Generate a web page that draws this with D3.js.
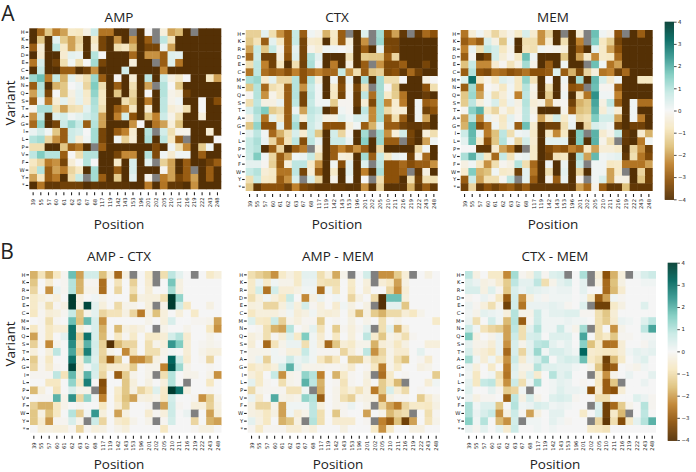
<!DOCTYPE html>
<html><head><meta charset="utf-8">
<script src="https://cdnjs.cloudflare.com/ajax/libs/d3/7.8.5/d3.min.js"></script>
<style>html,body{margin:0;padding:0;background:#fff}svg{display:block}</style>
</head><body><svg id="c" width="696" height="472"></svg>
<script>
const N=null;
const positions=["39","55","57","60","61","62","63","67","68","117","119","142","143","153","196","201","202","205","210","211","216","219","222","243","248"];
const variants=["H","K","R","D","E","C","M","N","Q","S","T","A","G","I","L","P","V","F","W","Y","*"];
const colorTicks=[-4,-3,-2,-1,0,1,2,3,4];
const AMP=[
[-4,-2.8,-1.5,-2.5,-2,-.7,-.8,-.3,.7,-2.6,-2.6,-4,-4,N,-4,0,N,-.4,-2,-1.7,-4,N,-4,-4,-4],
[-4,-1.5,-4,.3,-1.4,-2,-1.2,-4,-.8,-3.5,-4,-2.2,-4,-2.2,-4,-3,N,.9,-.9,-4,-4,-4,-4,-4,-4],
[-3,-.5,-4,.9,-.7,-2,-1,-4,-.5,-3.5,-4,-1,-.8,-1.7,-4,-3.5,-3.5,.2,-2,-4,-4,-4,-4,-4,-4],
[-4,-.6,-4,-4,-.6,.3,.2,-4,1,0,-4,-4,-4,-2.8,-4,-2.2,-2.2,-3,.4,.3,-4,-4,-4,-4,-4],
[-2.6,.5,-4,-3.6,-1,.1,-1,0,1.2,-3.5,-4,-4,-4,-.4,-4,-4,N,-3,.4,-2.6,-4,-4,-4,-4,-4],
[-4,.8,-4,-4,-3,-3,-4,-3.6,-2.2,-4,-4,-4,.6,-4,-4,-4,-4,-2.3,-4,-4,-4,-4,-4,-4,-4],
[1.3,1.8,-2.5,.8,-1.8,.3,-.5,-1,1.3,-3,-4,-.1,-4,-.5,-4,.9,-4,.7,-.3,-.7,0,-4,-4,-.8,-2],
[-3,1,-4,-1.8,-1.5,0,.2,-1.2,1.6,-1,-4,-3,-4,-1,-4,-2,N,1,0,-1.5,-4,-4,-4,-4,-4],
[-2,.9,-3.5,0,-1.5,-.3,.3,-.7,1.4,-.8,-4,-1.5,-4,-1.2,-4,0,-4,1,-.2,-.4,-3.6,-4,-4,-4,-4],
[-3,.2,-2.5,-.5,.3,-.5,.3,-.6,1.1,-.8,-4,-4,-1,-1.5,-4,-2.5,-4,.9,-.2,.1,-4,-4,0,-4,-3.3],
[-.2,1.1,1.1,-1,-2,-1,-.9,.3,1,-1,-4,-3,-2.4,-.8,-4,-.5,-4,.9,-.5,-.3,-1,-4,0,-4,-4],
[-2.2,.8,-4,.4,.6,.1,.3,.6,.9,-2,-4,-2.4,.6,-3.2,-4,-1.6,-2.4,.7,-.2,-1,-4,-4,-.4,-4,-4],
[-2.8,1.4,-4,-3.5,.7,1.3,.8,-3,1,-2,-4,-4,-4,-2.2,0,-4,-2.6,-2,-.4,-1.6,-4,-4,-4,-4,-4],
[.2,.6,.1,-1.5,-3,.7,.5,0,1.2,-3.5,-4,-3,-2.4,-.6,-4,1,N,.6,-1,-.2,-.2,-4,-4,-.5,-4],
[1,1.2,-1.2,-2.2,-3,.7,-.5,.1,1.2,-3.5,-4,.1,-1.3,-.5,-4,1.1,-4,.9,-.8,-3,N,-4,-4,-4,0],
[-1,-1,-4,-4,-1.5,-3,-2.6,-4,N,-3,-4,-4,-4,-4,-4,-4,-3.4,-4,.1,-1,-2.3,-4,-1.4,.1,-4],
[.9,1.6,1,1,-3,0,-1,1,1,-4,-4,-3.5,-2.3,-2.3,-4,1,-3.4,.1,-.6,.1,.1,-4,-3,-4,-4],
[-.8,-1.2,-2.5,-2.2,-3.5,-.5,0,1,0,-4,-4,-.7,-4,.5,-4,.3,N,-1.3,-2,-4,-3,-4,-4,-3.6,-3],
[-1,1,-3,-2,-2.5,-1.2,-.8,-4,1.2,-4,-4,-3,-4,.5,-4,-4,-4,-.1,-2,-4,-3,N,-4,-3,-4],
[-2,-.8,-3,-2.5,-4,-1,.8,N,1.2,-3,-4,-1.4,-4,.3,-4,-.2,N,-2.5,-2,-3.5,-3,-2,-4,-3,-4],
[-4,-2.6,-3.8,-3.8,-3.6,-3.6,-3.6,-4,-3.8,-3.9,-3.9,-3.9,-3.9,-4,-4,-2.5,-4,-2.6,-3.8,-3.8,-4,-2.2,-4,-4,-4]];
const CTX=[
[-1.3,-1.3,.3,-1,-2.2,-3,.8,-3,.1,-.2,-1.8,-.7,-3,N,-4,.4,N,1.2,-3.2,-2,-3.8,N,-3.8,-2.8,-3.2],
[-1.5,-.9,-3,.3,-.8,-3,.8,-3.5,-.6,-.7,-4,-.8,-3,-.4,-4,-2.2,N,1.3,-3.5,-3.5,-4,-4,-4,-4,-4],
[-2,.8,-1.5,.8,-.2,-3,.3,-3.5,-.2,-.5,.1,.1,0,-.2,-4,-3,-4,.3,-3.4,-3.5,-4,-4,-4,-4,-4],
[-2.8,.7,-3.6,-3.6,-.4,-3.2,.4,-3.5,1,.3,-4,-4,-4,-.9,-4,-1.4,-1.5,-1.5,-3,-1.2,-4,-4,-4,-4,-4],
[-1,.9,-2.4,-3.6,-.8,-4,-1,-3.6,1.1,.1,-4,-2.5,-4,-.3,-4,-3,N,-2.2,-3.4,-3.4,-3,-4,-4,-3.5,-4],
[-2.6,.9,-2.7,-3,-2.8,-3.2,-2.4,-3.2,-2.8,-2.4,-2.8,-2.8,.8,-2.2,-1,-3,-1.5,-1.3,-3.4,-3.2,-3.8,-2.8,-3.6,-4,-4],
[1.1,1.3,-.6,.3,-1.2,-1.2,1,-3.2,1,-.4,-4,.1,-3.5,.2,-4,1.1,-4,1.2,-1,-1,0,-4,-4,-.3,0],
[-1.5,1,-2.8,-1,-.8,-3,1,-2.2,.8,.1,-4,-.7,-3.3,-.2,-3.5,-1,N,1.2,-.1,-1.5,-4,-4,-4,-3.2,-1],
[-.1,1,-2.2,-.2,-.8,-3,1,-3.5,.9,.1,-4,-.8,-3.5,-.1,-3.7,.9,-2.7,1.2,-.7,-1.4,-2.6,-4,-4,-3.7,-4],
[-1,.9,-.3,-.3,.2,-3,.9,-3.5,.8,.1,.1,-1.4,-.1,-.1,-3.7,-.5,-3.4,1.2,-2.3,-.6,-2.5,-4,.1,-3,-2.8],
[.5,1.1,1.6,-1.4,-1.1,-3,.2,-2,.9,.7,-4,-3.4,.1,-.1,-4,.9,-2.3,1.2,-1.1,-.5,-.5,-4,.1,-3.6,-3.2],
[-.3,.9,-2.6,.3,-.8,-3,.9,-.5,.8,.4,-.3,-.3,.4,.1,.5,.5,-2.3,1.2,-2.8,-1,-3,-4,.1,-2,-4],
[-1.5,1.4,-3.2,-3.2,.3,-3,1.2,-3.5,.7,.3,-3.2,-3.2,-3.2,-.4,.1,-3,-1.8,.4,-3,-3,-3.6,-3.8,-3.8,-3.6,-4],
[.3,.9,.1,-2.8,-1.8,-1,.5,-.6,.8,-1.5,-4,.6,-1.2,-.1,-4,1.2,N,1.3,-2.2,-.4,.6,-3.5,-4,-.4,-1],
[.8,1.1,.2,-1.2,-2.6,-.9,.9,-3.3,.9,.2,-4,.7,.7,.2,-4,1.5,-4,1.3,-3,-3,N,-3.6,-4,-2,.1],
[.8,1,-4,-3,-1.2,-4,-3,-2.5,N,-.4,-4,-3,-2.4,-3,-2.2,-3,-4,-1.1,-4,-4,-4,-4,-1.2,.1,-4],
[.7,1.6,.1,-1.2,-3,-2,.1,.2,.8,-1,-4,-3,-.4,-.5,-4,1.2,-3,.8,-.8,.2,.1,-3.6,-.3,-2.8,-4],
[.3,.3,-.1,-1.3,-3,-.4,.9,.9,-.7,-2.2,-4,.1,-3.3,.3,-4,.4,N,.9,-3.2,-3.2,-2.8,-3.3,-3,-3,-2.2],
[.8,1,-.5,-.7,-2.6,-2.6,.9,-3.5,-.5,-3,-4,-.7,-4,.3,-4,-2.4,-4,1.1,-3.2,-3.2,-2.9,N,-3.8,-.3,-4],
[-1,.8,-.7,-.8,-3,-2.2,.5,N,.5,-1.2,-4,-.2,-4,.1,-4,0,N,-1,-3.2,-3.2,-4,-1,-3.6,-1,-1],
[-1.5,-3.8,-3.2,-3.2,-3.2,-3.6,-2.4,-3.4,-3.6,-3.8,-3.8,-3.8,-3.8,-3.9,-3.9,-2.2,-3.9,-1.3,-3.9,-3.9,-3.9,-1.8,-3.8,-3,-3.8]];
const MEM=[
[-2.6,-.5,.1,-.5,-1.2,-.6,-.2,-.7,.5,-.6,-2.2,-1.2,-4,N,-4,-.5,N,1.8,.1,-.2,-3.2,N,-4,-3,-4],
[-3,-2.5,-3,.5,-.3,-1.5,.1,-4,-1,-1,-2.2,-.6,-4,-1,-4,-2.4,N,1.6,-.8,-1.4,-3.5,-4,-4,-4,-4],
[-2.4,.2,-1,.9,.6,-.8,-.2,-4,-.9,-1,.1,-.1,-.2,-.4,-4,-3,-4,.3,-.7,-2,-3.2,-4,-4,-4,-4],
[-3,-.1,-4,-3.5,.6,-.5,-.1,-.8,1.8,.1,-4,-4,-4,-1.5,-4,-2,-.7,-2.3,-.7,-.8,-2.8,-4,-4,-4,-4],
[-1.6,.8,-2.3,-2.3,-.6,-.1,-.9,-.3,1.2,-.2,-4,-3,-4,.1,-4,-4,N,1.8,.1,-2.6,-2,-4,-4,-4,-4],
[-3,1,-3.2,-3.4,-2.6,-2.8,-3.2,-3,-2.6,-3.2,-3.2,-3,.4,-3,-1.8,-3.4,-1.2,-.4,-2.6,-2.4,-3.6,-2.8,-4,-4,-4],
[.4,3,-.7,-.2,-.8,.4,.2,-.8,1.4,-.9,-4,0,-4,.1,-4,1.2,-4,1.9,.5,-.6,.1,-4,-4,-.8,-.8],
[-3,1.2,-2.4,0,-.2,-.8,.1,-.8,1,-.2,-4,-1,-4,-.1,-3.2,-3,N,1.8,-.1,-.1,-3,-4,-4,-4,-4],
[-1.5,1.3,-2,.1,-1,-.5,.1,-2.4,.9,-.3,-4,-1.4,-4,.1,-4,-.9,-2.6,2.5,.1,.1,-2.4,-4,-4,-4,-4],
[-1.4,.9,-.4,.1,.5,-.7,.2,-.3,1,-.5,-.3,-2,-.2,-.1,-3.6,-1.8,-1.5,2.2,-.3,.9,-3,-4,.1,-2.7,-2.7],
[-.1,1.5,2,-.7,-1.2,-.2,-.7,-.2,.9,-.3,-4,-4,-4,-.2,-3,-1.6,-1.4,2,-.5,.3,-.5,-4,.1,-4,-4],
[-2,.9,-2.3,.2,-.2,-.8,.3,-.1,.9,-.1,-2,-.7,.6,-.7,.1,-1.2,-1,1.6,.6,.6,-2,-4,.1,-2.5,-4],
[-1.8,2,-3.3,-2.6,.1,-.7,.2,-3,1.8,-.6,-4,-3.6,-3.6,-1,.2,-4,-1.2,.5,.3,.1,-3.6,-4,-3.6,-3.6,-4],
[.7,1.9,.2,-2.5,-1.6,.9,-1,.1,.2,-.7,-4,-.7,-2.3,-.8,-4,1.6,N,2,-.6,-.2,.8,-3.7,-4,-.6,-1.8],
[.3,1.8,-.7,-3.2,-1.5,1,.1,-1.2,.6,-.6,-4,.3,.3,.3,-4,1.6,-4,2,-.2,-1,N,-3.8,-4,-2.5,.1],
[0,0,-3.8,-3.8,-.6,-2,-2.6,-4,N,-.7,-4,-3.4,-3,-3.2,-2.4,-2.8,-.8,-2,-.5,-.5,-.7,-4,-1.2,-2.2,-3.6],
[1.1,2,.8,-.8,-2.8,.8,-.9,.1,.2,-.7,-4,-3.6,-.9,-.8,-4,1.1,-2,1.9,.1,.2,.3,-3.8,-1,-2.6,-3.4],
[-.3,.1,-.8,-2.2,-1,-.1,-.3,1,-1,-2.8,-4,.1,-4,.2,-4,.8,N,.1,.1,-.8,-.7,-2.6,-2.6,-2.6,-2],
[-.6,1.6,-1.8,-1.6,.1,-.7,-.6,-3.6,.3,-2.6,-4,-1,-4,.3,-4,-1.2,-4,.1,.1,-2,-.7,N,-4,-1.2,-3.6],
[-3,.7,-2,-1,-1,-.1,.9,N,.3,-3,-4,-.2,-3,.2,-4,-.1,N,.1,.5,-2,-.3,-.3,-4,-1.5,-3.6],
[-3.6,-1.2,-3.8,-3.2,-3.6,-3.2,-3,-3.6,-3,-3.8,-3.8,-3.8,-3.8,-3.8,-3.9,-2,-2.8,-.2,-3,-3.8,-3.8,-1.6,-3.8,-3.8,-3.8]];
const AMP_CTX=[
[-1.8,-.9,-1.8,-.8,-.1,1.8,-2,.6,.6,-1.6,-.4,-2.8,-.3,N,0,-.7,N,-1,.9,.3,0,N,0,-.7,-.4],
[-1.5,0,-.6,0,-.1,1,-1.8,-.1,-.1,-2.7,0,-.9,0,-1.3,0,-.6,N,0,1.7,-.3,0,0,0,0,0],
[-1.2,0,-2.2,.2,-.1,1,-1.8,-.2,-.2,-2.7,0,-1.2,0,-1,0,-.5,0,0,1.2,-.3,0,0,0,0,0],
[-.7,-.4,-.2,-.4,0,4,-.3,0,.1,-.2,0,0,0,-1.6,-.3,-.4,-.4,-1,4,1.4,0,0,0,0,0],
[-.7,-.2,-1,-.1,-.3,4,-.3,3.8,.3,-.4,0,-1.1,-.2,-.2,0,-.4,N,-.2,4,.7,-.8,0,0,-.3,0],
[-.8,-.1,-.5,-.4,-.1,.8,-1.5,-.2,.3,-1.2,-.9,-.9,-.3,-1.2,-2.5,-.3,-1.6,-.4,0,-.4,0,-.7,0,0,0],
[0,-.1,-1,-.1,0,1.8,-1.6,1.9,.5,-2.2,0,0,0,0,0,-.2,0,-.4,.5,0,0,-.1,-.1,-.2,-2],
[-.8,-.1,-.8,-.5,-.5,3,-.5,.1,.5,-1.8,0,-1.7,-.3,-.5,-.3,0,N,-.2,0,0,-.2,0,0,-.8,-2.2],
[-2,-.1,-.8,0,.3,3,-1.3,3,.5,-1.7,0,-.8,-.1,-.7,0,-.7,-.7,-.5,.6,1,-.6,0,0,-.2,0],
[-1.3,-.1,-2.3,-.2,0,2.6,-1,2,.6,-1.3,-4,-1.7,-1.2,-1.2,0,-1,-.2,-.4,2.4,1.6,-.5,0,-.1,-.2,-.1],
[-.4,0,-.4,.9,0,2.2,-1.3,2.8,.5,-1.2,-.2,0,-2.3,-.9,0,-1,-1,-.2,.1,0,-.5,0,-.2,-.4,-.4],
[-1.4,-.1,-.8,0,0,3,-.5,1.4,.4,-1.3,-3,-1.5,0,-2.3,-2.3,-1.8,-.3,-.1,3.2,.7,-.6,0,-.1,-1.2,0],
[-1.2,-.1,-.6,-.1,0,3.8,-.6,.1,.6,-1,-.6,-.6,-.6,-1.4,0,-.2,-.2,-2.4,3.5,1.3,-.2,0,0,-.1,0],
[-.1,-.1,-.1,.9,-.9,1.9,-.5,2,.5,-1.2,0,-3,-1.4,-.2,0,-.2,N,-1,1,0,-.2,-.2,0,-.2,-2.2],
[0,0,-.8,-.8,0,1.4,-.8,2.8,0,-3.3,0,0,-1.5,-.4,0,-.3,0,-.4,1,0,N,0,0,-.8,0],
[-1.7,-.4,0,-.9,0,.5,-.2,-.2,N,-3.1,0,-.7,-1.5,-.3,-1.2,-.8,.4,-.7,4,3,-.3,0,0,-.1,0],
[0,-.1,-.1,2,-.2,2.5,-1.2,1.4,.1,-2.4,0,-.8,-1.6,-2,-.3,-.4,-.2,-.8,.6,0,0,-.1,-2.2,-1.4,-.2],
[-1.3,-1.8,-1.8,-.8,-.2,0,-.1,0,0,-.8,0,-.5,-1.4,0,0,-.1,N,-2,.7,-.1,0,-.4,-.4,-1.3,-.3],
[-1.5,-.3,-1.6,-.8,0,1,-1.3,.1,2.4,-.4,0,-2,-.3,0,0,-.6,-.1,-.4,.7,0,.2,N,0,-2,-.4],
[-1.5,-.6,-2.1,-.1,-.1,.5,-.2,N,.7,-1.2,0,-.6,-.8,-.2,0,-.2,N,-.1,.6,0,0,-1.2,0,-1.8,-2],
[0,-.4,-.3,-.4,-.4,-.1,-1.2,-.1,-.4,-.3,0,-.2,-.4,0,0,0,0,-.8,0,0,0,-.1,-.3,-.3,0]];
const AMP_MEM=[
[-1,-1.3,-1.6,-2.2,-.7,-.3,-.7,.3,.3,-1,-.4,-1.9,-.2,N,0,.6,N,-2.2,-2.2,-1.4,-.5,N,0,-.3,0],
[-.7,.2,-.7,.1,-.2,-.2,-.7,.2,.2,-.9,-1,-1,0,-.7,0,-.4,N,-.5,-.8,-2,-.3,0,0,0,0],
[-.7,.6,-2.6,.6,-.5,-.5,-.3,.1,.1,-2.7,.1,-.9,0,-.8,0,-.5,0,0,-1.2,-2.2,-.5,0,0,0,0],
[-1,-.4,.1,-.4,-.8,.8,0,-2.3,-.3,.2,0,.1,0,-1.2,-.3,0,-1.1,-4,1.8,1.8,-.4,0,0,0,0],
[-.4,-.3,-1.2,-1.2,-.4,.3,-.4,.6,-.1,-.4,0,-.6,.1,-.3,0,-.3,N,-4,.3,.3,-1.5,0,0,0,0],
[-.8,-.4,-.4,-.4,-.2,.1,-.5,-.3,.1,-.4,-.5,-.4,0,-.5,-1.7,-.3,-1.4,-1.8,-1.1,-1.1,-.5,-.8,-.2,0,0],
[.4,-.7,-.8,.7,-1.3,-.2,-.4,-.1,-.1,-1.4,0,-.1,0,-.3,0,-.2,0,-1,0,-.2,0,0,0,0,-.7],
[0,-.1,-1,-1.8,-2,1,0,-.2,.3,-.9,0,-1.4,-.1,-.4,-.1,.3,N,-1,.3,-1.8,-.5,0,0,0,0],
[-.4,-.2,-1,-.1,-.5,.4,-.7,1.6,.1,-.6,0,-.8,0,-.4,0,.9,-.6,-1.5,-.2,-.4,-1,-.1,0,0,0],
[-.5,0,-2.8,-.9,-.2,.2,.2,-1,.1,-.5,-2.8,-1.5,-.5,-.7,-.2,-.2,-1.8,-.5,-.3,-.8,-.3,0,0,-.4,-.4],
[-.2,-.2,-.2,.1,-.1,-.4,-.4,.8,.1,-.1,-.1,-.1,-1.2,-.5,-.1,.9,-2.2,-1.2,-.2,-.6,-.6,0,.3,0,0],
[-.2,.2,-1.3,.1,.1,.7,.2,.4,.1,-.8,-1.3,-.8,0,-1.5,-1.5,-.4,-1.1,-1,-.2,-1,-1.6,0,-.1,-.6,0],
[-.8,-.5,-.7,-.4,.6,2,.3,-.2,-.2,-.2,-.1,-.1,-.2,-.6,0,-.1,-.8,-2.5,-.2,-.7,0,0,-.3,-.2,0],
[-.4,-.7,0,.8,-2.2,-.2,-.1,1.4,1,-2.4,0,-1.8,-.7,-.1,0,-.3,N,-2.7,-.7,0,-.1,0,0,0,-1.4],
[.3,-.7,-.1,0,-1,-.2,-.1,2,.9,-1.8,0,-.1,-.9,-.1,0,-.4,0,-1.4,-.8,-1.7,N,0,0,-.5,.1],
[-1.1,-.2,-.1,-.1,-.1,-.9,-.9,.1,N,-1.9,0,-.2,-.8,-.4,-.9,-.3,-2.5,-1.4,.5,-.5,-1.1,0,-.1,0,0],
[.2,-.6,0,2.1,-.2,-.3,-.2,1.4,1,-3,0,-.2,-1,-1.3,-.2,-.3,-.3,-2.2,-.3,-.1,-.1,0,-1.4,-.6,-.2],
[-.3,-1.2,-1.2,-.2,-2,.1,.1,.1,.9,-.4,0,-.2,-.1,.2,0,-.2,N,-1.2,-2,-2.5,-1.2,-.7,-.7,-.8,-.3],
[-.3,-.4,-.8,-.3,-2,.1,-.5,-.2,.9,-1,0,-1.5,-.1,0,0,-2,0,-.2,-1.7,-1.2,-1,N,0,-1,-.1],
[.3,-.3,-.8,0,-1.8,-1.5,-.3,N,1,-1,0,-.6,-.6,-.6,0,-.1,N,-2.4,-3,-1.6,-3.6,-2,0,-.9,-.2],
[-.1,-.7,-.1,-.1,-.1,-.5,-.5,-.2,-.4,0,0,0,-.3,0,0,0,-.7,-2.2,-.7,0,0,-.3,-.3,0,0]];
const CTX_MEM=[
[.9,-.3,0,-.7,-.7,-2.3,1.2,-.1,-.3,.6,-.1,.4,.5,N,0,1.1,N,-.5,-3.2,-1.8,-.4,N,.1,.5,.7],
[.4,.2,-.3,-.2,-.6,-1.4,.9,.3,.3,.9,-1,-.2,.3,.5,0,.3,N,-.3,-2.8,-1.6,-.3,0,0,.1,.1],
[.5,.5,-.3,.4,-.1,-1.5,.5,.2,.4,.3,.2,.1,.2,.2,0,.3,0,0,-2.8,-1.7,-.6,0,0,0,0],
[-.1,0,.2,-.1,-.8,-3,.6,-2.2,-.4,.1,-.1,.1,.1,.1,0,.1,-.8,-3,-2,.1,-.1,0,0,0,0],
[.2,-.1,-.4,-1,-.2,-3.6,.6,-2.6,.2,.2,.2,.3,.2,-.1,0,.4,N,-3.6,-3.6,-.7,-.3,0,0,.4,0],
[.1,-.2,.3,.2,.1,-.4,1,-.2,-.2,.7,.1,.3,.3,.4,.4,-.1,-.1,-1,-1.5,-.5,0,0,0,0,0],
[.2,-1,0,.6,.1,-1.7,1,-3,-.1,.7,.1,.1,.1,.2,.1,.1,0,-1,-1.4,-.6,.2,.1,0,.4,.9],
[.7,.1,-.9,-1.2,-1.4,-2,.9,-1,.3,1,.1,.1,.7,.1,-.2,1.2,N,-1,0,-2.2,-.2,0,0,.9,2.2],
[1.6,-.3,0,-.2,.2,-2,.7,-1,.5,.6,0,.4,.4,.4,0,2.2,0,-1,-.7,-1.5,-.1,-.1,0,.1,.1],
[.3,-.2,-.2,-.5,.2,-2.2,.5,-.2,.3,.9,1,.3,.1,.3,0,1.5,-1.6,-.7,-2.7,-2.6,-.5,0,0,-.1,.2],
[.5,-.3,-.5,-.8,.2,-2.8,.5,-1.2,.3,1.3,.1,.5,.5,.3,.1,3.2,-.6,-.7,-.8,-.8,-.5,.1,.3,.2,.3],
[1.2,.1,-.5,.1,-.7,-2.2,.7,-.6,.2,.5,1.1,0,.4,.6,.5,1.8,-.7,-1,-3.6,-1.7,-.7,0,.2,.4,0],
[.2,-.4,0,-.7,0,-2.5,.4,-.2,-.2,1,.4,.4,.3,.3,.1,0,-.2,-1.5,-3.4,-3,0,-.1,-.2,.1,0],
[.1,-.8,0,.1,-1,-2.6,.3,-.4,.4,-.6,0,1,.3,.5,0,0,N,-.7,-2.2,-.2,0,.2,0,0,.3],
[.3,-.8,.8,.9,-.8,-2.2,.7,-1,.1,1.2,0,.1,.3,.2,0,-.1,0,-.8,-3,-1.5,N,0,0,.2,0],
[.4,0,0,.3,-.1,-1.4,-1.2,.1,N,0,0,.1,.4,.2,.2,.1,-3.2,-.6,-3,-3.2,-.5,0,0,0,0],
[.2,-.3,-.1,-.1,0,-2.9,.9,-.3,.5,-.2,0,.4,.5,.4,-.1,0,0,-1,-1,0,0,0,.4,.2,-.1],
[1.1,.1,.4,.4,-1.5,0,1,.1,.2,.5,.4,.1,.2,.1,0,0,N,.4,-3.6,-2.8,-1.4,-.2,0,1,-.1],
[1.1,.2,.5,.8,-2.2,-.3,.7,-.1,-2,-.3,0,.3,.3,0,0,-.7,0,.5,-3.6,-.7,-1.7,N,0,.9,0],
[1.5,.1,1,0,-1.7,-2.2,.6,N,.1,.1,0,.3,.1,-.1,0,0,N,-1.2,-3.8,-1,-3.3,-.7,.3,1,2],
[.2,-.1,.3,0,.3,-.6,.7,0,0,.1,0,.1,0,0,0,0,-.7,-.8,-.9,0,0,0,0,0,0]];

const svg=d3.select("#c");
const FONT="'Open Sans',sans-serif", TICKFONT="'DejaVu Sans',sans-serif", INK="#222";
const color=d3.scaleLinear().domain(d3.range(11).map(i=>-4+i*0.8)).range(d3.schemeBrBG[11]).interpolate(d3.interpolateRgb).clamp(true);
function text(s,x,y,size,rot){
  return svg.append("text").attr("text-anchor","middle").attr("dominant-baseline","central")
    .attr("font-family",FONT).attr("font-size",size).attr("fill",INK)
    .attr("transform",`translate(${x},${y})`+(rot?` rotate(${rot})`:"")).text(s);
}
function heat(title,rows,x0,x1,y0,y1,cx,ty,py){
  const x=d3.scaleBand().domain(positions).range([x0,x1]);
  const y=d3.scaleBand().domain(variants).range([y0,y1]);
  const cells=[];
  rows.forEach((r,i)=>r.forEach((v,j)=>cells.push({v,p:positions[j],q:variants[i],i,j})));
  // A thin overlap closes the anti-aliasing seams between neighbouring cells.
  svg.append("g").style("filter","blur(0.35px)").selectAll("rect").data(cells).join("rect")
    .attr("x",d=>x(d.p)).attr("y",d=>y(d.q))
    .attr("width",d=>x.bandwidth()+(d.j<positions.length-1?0.5:0))
    .attr("height",d=>y.bandwidth()+(d.i<variants.length-1?0.5:0))
    .attr("fill",d=>d.v===null?"#808080":color(d.v));
  const ax=svg.append("g").attr("transform",`translate(0,${y1+3})`).call(d3.axisBottom(x).tickSize(3).tickPadding(1));
  ax.select(".domain").remove();
  ax.selectAll("line").attr("stroke","#222").attr("stroke-width",1.1);
  ax.selectAll("text").attr("font-family",TICKFONT).attr("font-size",5.2).attr("fill",INK)
    .attr("text-anchor","middle").attr("dominant-baseline","central").attr("dy",null)
    .attr("transform","rotate(-90)").attr("x",-10).attr("y",0);
  const ay=svg.append("g").attr("transform",`translate(${x0-1},0)`).call(d3.axisLeft(y).tickSize(2.6).tickPadding(1));
  ay.select(".domain").remove();
  ay.selectAll("line").attr("stroke","#222").attr("stroke-width",1.1);
  ay.selectAll("text").attr("font-family",TICKFONT).attr("font-size",5.2).attr("fill",INK);
  text(title,cx,ty,13.5);
  text("Position",cx,py,13.5);
}
function bar(x0,x1,y0,y1){
  const s=d3.scaleLinear().domain([-4,4]).range([y1,y0]);
  svg.append("g").selectAll("rect").data(d3.range(y0,y1,1)).join("rect")
    .attr("x",x0).attr("y",d=>d).attr("width",x1-x0).attr("height",1.2)
    .attr("fill",d=>color(s.invert(d+0.5)));
  const a=svg.append("g").attr("transform",`translate(${x1},0)`).call(d3.axisRight(s).tickValues(colorTicks).tickSize(2.6).tickPadding(1.5).tickFormat(d=>d<0?"\u2212"+(-d):d));
  a.select(".domain").remove();
  a.selectAll("line").attr("stroke","#222").attr("stroke-width",0.8);
  a.selectAll("text").attr("font-family",TICKFONT).attr("font-size",5.4).attr("fill",INK);
}
heat("AMP",AMP,29.3,221.3,28.3,189.3,119,17,224);
heat("CTX",CTX,245.7,437.7,30,191,337,17,224);
heat("MEM",MEM,460.7,652.7,30,191,553,17,224);
heat("AMP - CTX",AMP_CTX,30,221.5,271,432.7,119,256,464);
heat("AMP - MEM",AMP_MEM,247.7,440,271,432.7,338,256,464);
heat("CTX - MEM",CTX_MEM,465,656,271,432.7,555,256,464);
bar(664.7,674,21.7,199.3);
bar(667.7,677.3,262.7,440);
text("Variant",9.5,103,13.5,-90);
text("Variant",10,344,13.5,-90);
text("A",8,13,21);
text("B",7,251,21);
</script></body></html>
